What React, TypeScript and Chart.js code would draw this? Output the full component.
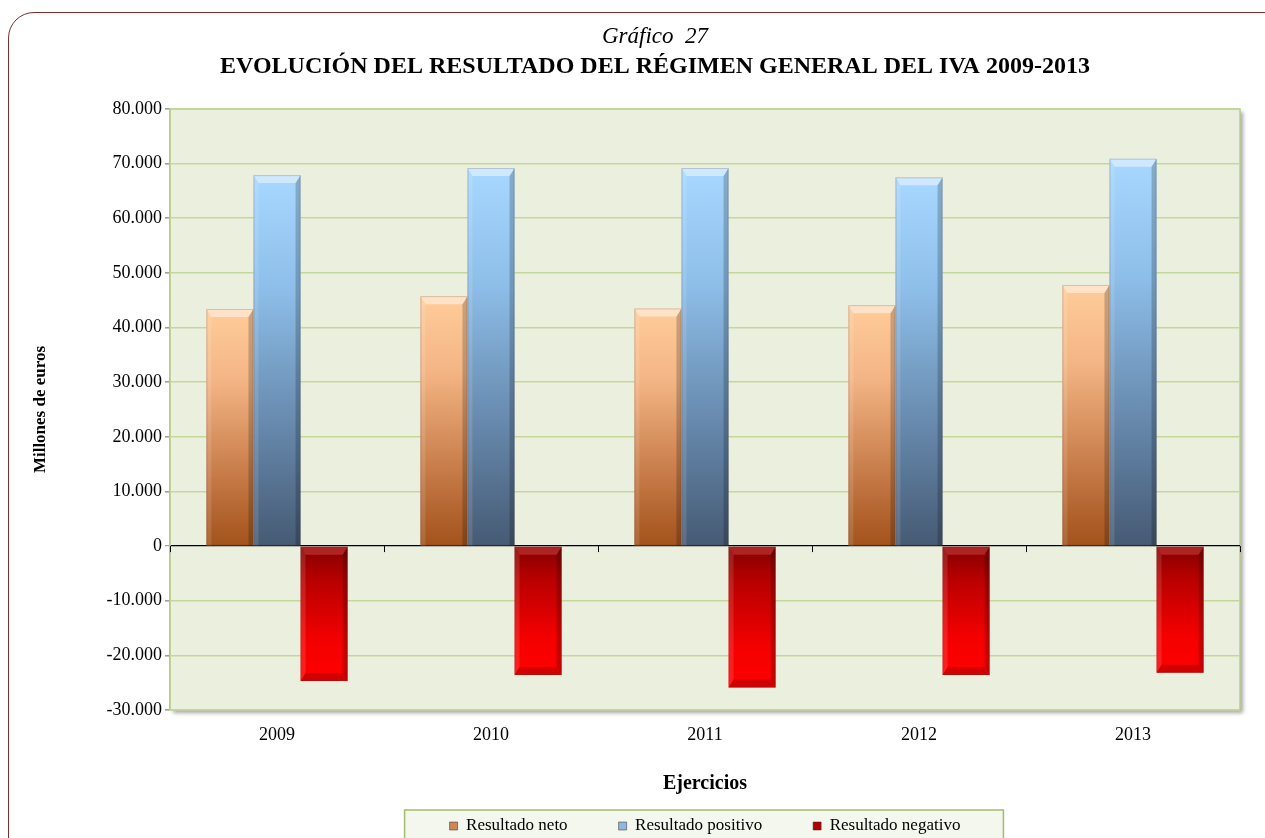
import React, { useEffect, useRef } from "react";
import { Chart, registerables } from "chart.js";

Chart.register(...registerables);

// ---------- data ----------
const years = ["2009", "2010", "2011", "2012", "2013"];
const resultadoNeto = [43400, 45750, 43500, 44100, 47800];
const resultadoPositivo = [67900, 69200, 69200, 67500, 70900];
const resultadoNegativo = [-24700, -23600, -25900, -23600, -23200];
const seriesNames = ["Resultado neto", "Resultado positivo", "Resultado negativo"];
const yMin = -30000;
const yMax = 80000;
const yStep = 10000;
const chartTitle = "Gráfico  27";
const chartSubtitle = "EVOLUCIÓN DEL RESULTADO DEL RÉGIMEN GENERAL DEL IVA 2009-2013";
const yTitle = "Millones de euros";
const xTitle = "Ejercicios";

// ---------- styles ----------
const SERIF = "'Liberation Serif', 'Times New Roman', serif";
const CANVAS_W = 1310;
const CANVAS_H = 838;

const netoStops: [number, string][] = [
  [0, "#ffcc9a"],
  [0.3, "#f4b585"],
  [0.7, "#c67b48"],
  [1, "#a3521b"],
];
const positivoStops: [number, string][] = [
  [0, "#a8d8ff"],
  [0.3, "#8ebfea"],
  [0.7, "#6485a8"],
  [1, "#465a73"],
];
const negativoStops: [number, string][] = [
  [0, "#ff0000"],
  [0.3, "#f40000"],
  [0.75, "#b80000"],
  [1, "#820000"],
];
const legendColors = ["#c98a5a", "#8fb8e0", "#b00000"];

function gradientFill(stops: [number, string][]) {
  return (c: any) => {
    const chart = c.chart;
    const y = chart.scales && chart.scales.y;
    if (!chart.chartArea || !y || c.type !== "data") return stops[1][1];
    const v = Number(c.raw);
    const y0 = y.getPixelForValue(0);
    const y1 = y.getPixelForValue(v);
    if (!isFinite(y0) || !isFinite(y1) || y0 === y1) return stops[1][1];
    const g = chart.ctx.createLinearGradient(0, y1, 0, y0);
    stops.forEach(([o, col]) => g.addColorStop(o, col));
    return g;
  };
}

function fmt(v: any) {
  const n = Number(v);
  const s = Math.abs(n)
    .toString()
    .replace(/\B(?=(\d{3})+(?!\d))/g, ".");
  return (n < 0 ? "-" : "") + s;
}

const plotAreaPlugin = {
  id: "plotArea",
  beforeDraw(chart: any) {
    const { ctx, chartArea: a } = chart;
    if (!a) return;
    ctx.save();
    ctx.shadowColor = "rgba(0,0,0,0.35)";
    ctx.shadowBlur = 4;
    ctx.shadowOffsetX = 3;
    ctx.shadowOffsetY = 3;
    ctx.fillStyle = "#ebf0de";
    ctx.fillRect(a.left, a.top, a.right - a.left, a.bottom - a.top);
    ctx.restore();
    ctx.save();
    ctx.strokeStyle = "#b9cc90";
    ctx.lineWidth = 1.5;
    ctx.strokeRect(a.left, a.top, a.right - a.left, a.bottom - a.top);
    ctx.restore();

    // legend frame
    const lg = chart.legend;
    if (lg && lg.legendHitBoxes && lg.legendHitBoxes.length) {
      const hb = lg.legendHitBoxes;
      const first = hb[0];
      const last = hb[hb.length - 1];
      const l = first.left - 45;
      const r = last.left + last.width + 43;
      const t = first.top - 7.5;
      ctx.save();
      ctx.fillStyle = "#f4f7ee";
      ctx.fillRect(l, t, r - l, 60);
      ctx.strokeStyle = "#a3bd6c";
      ctx.lineWidth = 1.5;
      ctx.strokeRect(l, t, r - l, 60);
      ctx.restore();
    }
  },
};

const bevelPlugin = {
  id: "bevel",
  afterDatasetsDraw(chart: any) {
    const ctx = chart.ctx;
    chart.data.datasets.forEach((_: any, di: number) => {
      const meta = chart.getDatasetMeta(di);
      meta.data.forEach((el: any) => {
        const { x, y, base, width } = el.getProps(["x", "y", "base", "width"], true);
        const l = x - width / 2;
        const r = x + width / 2;
        const t = Math.min(y, base);
        const b = Math.max(y, base);
        const neg = y > base;
        const e = 8;
        const s = 5;
        ctx.save();
        // right shade
        ctx.fillStyle = "rgba(0,0,0,0.2)";
        ctx.beginPath();
        ctx.moveTo(r, t);
        ctx.lineTo(r, b);
        ctx.lineTo(r - s, b - (neg ? e : 0));
        ctx.lineTo(r - s, t + e);
        ctx.closePath();
        ctx.fill();
        // left light
        ctx.fillStyle = "rgba(255,255,255,0.12)";
        ctx.beginPath();
        ctx.moveTo(l, t);
        ctx.lineTo(l, b);
        ctx.lineTo(l + s, b - (neg ? e : 0));
        ctx.lineTo(l + s, t + e);
        ctx.closePath();
        ctx.fill();
        // top cap
        ctx.fillStyle = neg ? "rgba(255,110,110,0.32)" : "rgba(255,255,255,0.45)";
        ctx.beginPath();
        ctx.moveTo(l, t);
        ctx.lineTo(r, t);
        ctx.lineTo(r - s, t + e);
        ctx.lineTo(l + s, t + e);
        ctx.closePath();
        ctx.fill();
        if (neg) {
          ctx.fillStyle = "rgba(110,0,0,0.30)";
          ctx.beginPath();
          ctx.moveTo(l, b);
          ctx.lineTo(r, b);
          ctx.lineTo(r - s, b - e);
          ctx.lineTo(l + s, b - e);
          ctx.closePath();
          ctx.fill();
        }
        ctx.strokeStyle = "rgba(80,60,50,0.22)";
        ctx.lineWidth = 1;
        ctx.strokeRect(l + 0.5, t + 0.5, width - 1, b - t - 1);
        ctx.restore();
      });
    });

    // tick marks on the zero line
    const a = chart.chartArea;
    const yScale = chart.scales.y;
    const y0 = yScale.getPixelForValue(0);
    const n = years.length;
    ctx.save();
    ctx.strokeStyle = "#000";
    ctx.lineWidth = 1;
    for (let i = 0; i <= n; i++) {
      const px = Math.round(a.left + (i * (a.right - a.left)) / n) + 0.5;
      ctx.beginPath();
      ctx.moveTo(px, y0);
      ctx.lineTo(px, y0 + 6);
      ctx.stroke();
    }
    ctx.restore();
  },
};

export default function App() {
  const ref = useRef<HTMLCanvasElement | null>(null);

  useEffect(() => {
    if (!ref.current) return;
    const chart = new Chart(ref.current, {
      type: "bar",
      data: {
        labels: years,
        datasets: [
          {
            label: seriesNames[0],
            data: resultadoNeto,
            backgroundColor: gradientFill(netoStops) as any,
            borderWidth: 0,
          },
          {
            label: seriesNames[1],
            data: resultadoPositivo,
            backgroundColor: gradientFill(positivoStops) as any,
            borderWidth: 0,
          },
          {
            label: seriesNames[2],
            data: resultadoNegativo,
            backgroundColor: gradientFill(negativoStops) as any,
            borderWidth: 0,
          },
        ],
      },
      options: {
        responsive: false,
        animation: false,
        devicePixelRatio: 1,
        datasets: {
          bar: { categoryPercentage: 0.66, barPercentage: 1 },
        },
        layout: { padding: { left: 0, right: 0, top: 0, bottom: 0 } },
        plugins: {
          title: {
            display: true,
            text: chartTitle,
            color: "#000",
            font: { family: SERIF, size: 23, style: "italic", weight: "normal" },
            padding: { top: 23, bottom: 0 },
          },
          subtitle: {
            display: true,
            text: chartSubtitle,
            color: "#000",
            font: { family: SERIF, size: 24, weight: "bold" },
            padding: { top: 2, bottom: 27.6 },
          },
          legend: {
            display: true,
            position: "bottom",
            fullSize: false,
            maxHeight: 71.5,
            labels: {
              boxWidth: 8,
              boxHeight: 8,
              padding: 51,
              color: "#000",
              font: { family: SERIF, size: 17 },
              generateLabels: (c: any) =>
                c.data.datasets.map((ds: any, i: number) => ({
                  text: ds.label,
                  fillStyle: legendColors[i],
                  strokeStyle: "rgba(60,40,30,0.5)",
                  lineWidth: 1,
                  hidden: false,
                  datasetIndex: i,
                  fontColor: "#000",
                })),
            },
          },
          tooltip: { enabled: false },
        },
        scales: {
          x: {
            grid: { display: false, drawTicks: false },
            border: { display: false },
            ticks: {
              color: "#000",
              font: { family: SERIF, size: 18 },
              padding: 14,
            },
            title: {
              display: true,
              text: xTitle,
              color: "#000",
              font: { family: SERIF, size: 20, weight: "bold" },
              padding: { top: 0, bottom: -29.5 },
            },
            afterFit: (s: any) => {
              s.height = 56.5;
            },
          },
          y: {
            min: yMin,
            max: yMax,
            ticks: {
              stepSize: yStep,
              color: "#000",
              font: { family: SERIF, size: 18 },
              padding: 3,
              callback: (v: any) => fmt(v),
            },
            grid: {
              color: (c: any) => (c.tick && c.tick.value === 0 ? "#000000" : "#c4d79b"),
              lineWidth: (c: any) => (c.tick && c.tick.value === 0 ? 1.2 : 1.6),
              tickLength: 5,
              tickColor: "#9aa58a",
            },
            border: { display: true, color: "#b9cc90", width: 1.5 },
            title: {
              display: true,
              text: yTitle,
              color: "#000",
              font: { family: SERIF, size: 17, weight: "bold" },
              padding: { top: 30, bottom: 0 },
            },
            afterFit: (s: any) => {
              s.width = 170;
            },
          },
          spacer: {
            type: "linear",
            position: "right",
            display: true,
            grid: { display: false, drawTicks: false },
            border: { display: false },
            ticks: { display: false },
            afterFit: (s: any) => {
              s.width = 70;
            },
          },
        },
      } as any,
      plugins: [plotAreaPlugin, bevelPlugin],
    });
    return () => chart.destroy();
  }, []);

  return (
    <div
      style={{
        position: "fixed",
        left: 0,
        top: 0,
        width: 1265,
        height: 838,
        overflow: "hidden",
        background: "#fff",
      }}
    >
      <div
        style={{
          position: "absolute",
          left: 8,
          top: 12,
          width: 1400,
          height: 1000,
          border: "1.5px solid #7a2e2e",
          borderRadius: 26,
          boxSizing: "border-box",
        }}
      />
      <canvas
        ref={ref}
        width={CANVAS_W}
        height={CANVAS_H}
        style={{ position: "absolute", left: 0, top: 0, width: CANVAS_W, height: CANVAS_H }}
      />
    </div>
  );
}
